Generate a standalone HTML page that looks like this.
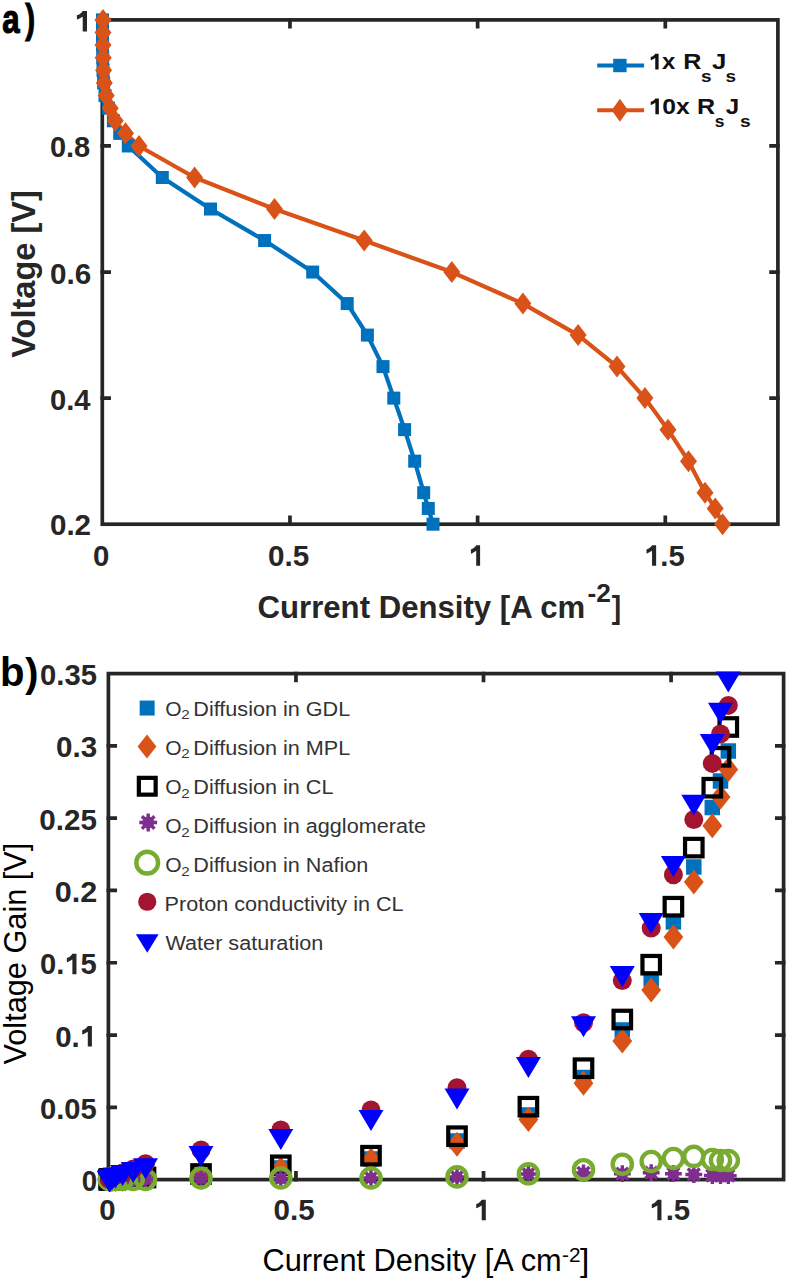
<!DOCTYPE html>
<html><head><meta charset="utf-8"><title>Figure</title><style>
html,body{margin:0;padding:0;background:#fff;overflow:hidden;}
svg{display:block;}
text{font-family:"Liberation Sans",sans-serif;}
</style></head><body>
<svg width="787" height="1280" viewBox="0 0 787 1280">
<rect width="787" height="1280" fill="#fff"/>
<g stroke="#262626" stroke-width="3.7" fill="none" stroke-linecap="square">
<rect x="102.3" y="19.9" width="675.6" height="504.3"/>
<path d="M289.97 524.2V517.4M289.97 19.9V26.7"/>
<path d="M477.63 524.2V517.4M477.63 19.9V26.7"/>
<path d="M665.3 524.2V517.4M665.3 19.9V26.7"/>
<path d="M102.3 398.12H109.1M777.9 398.12H771.1"/>
<path d="M102.3 272.05H109.1M777.9 272.05H771.1"/>
<path d="M102.3 145.97H109.1M777.9 145.97H771.1"/>
</g>
<text transform="translate(74.3 31.51) scale(1.041 1)" font-size="29.4" font-weight="bold" fill="#262626"> </text><polygon points="82.72,10.99 87,10.99 87,31.51 82.72,31.51 82.72,16.66 77.51,19.46 76.9,19.02 76.9,15.34 79.65,14.16 81.8,12.25" fill="#262626"/>
<text transform="translate(49.94 157.26) scale(0.987 1)" font-size="29.4" font-weight="bold" fill="#262626">0.8</text>
<text transform="translate(50.11 283.96) scale(1.010 1)" font-size="29.4" font-weight="bold" fill="#262626">0.6</text>
<text transform="translate(49.93 410.01) scale(0.992 1)" font-size="29.4" font-weight="bold" fill="#262626">0.4</text>
<text transform="translate(49.92 535.36) scale(1.007 1)" font-size="29.4" font-weight="bold" fill="#262626">0.2</text>
<text x="92.92" y="565.56" font-size="29.4" font-weight="bold" fill="#262626">0</text>
<text transform="translate(268.11 565.76) scale(1.009 1)" font-size="29.4" font-weight="bold" fill="#262626">0.5</text>
<text transform="translate(468.53 565.71) scale(0.948 1)" font-size="29.4" font-weight="bold" fill="#262626"> </text><polygon points="476.2,545.19 480.1,545.19 480.1,565.71 476.2,565.71 476.2,550.86 471.46,553.66 470.9,553.22 470.9,549.54 473.41,548.36 475.36,546.45" fill="#262626"/>
<text transform="translate(644.02 565.66) scale(0.994 1)" font-size="29.4" font-weight="bold" fill="#262626"> .5</text><polygon points="652.05,545.14 656.14,545.14 656.14,565.66 652.05,565.66 652.05,550.82 647.08,553.61 646.5,553.17 646.5,549.49 649.13,548.32 651.17,546.41" fill="#262626"/>
<text transform="translate(2.16 33.2) scale(0.761 1)" font-size="41" font-weight="bold" stroke="#000" stroke-width="1.2" fill="#000">a</text>
<text transform="translate(25.34 33.2) scale(0.718 1)" font-size="41" font-weight="bold" stroke="#000" stroke-width="1.2" fill="#000">)</text>
<text transform="translate(35 357.7) rotate(-90) scale(1.002 1)" font-size="32.5" font-weight="bold" fill="#262626">Voltage [V]</text>
<text transform="translate(257.55 618.1) scale(0.989 1)" font-size="31.5" font-weight="bold" fill="#262626">Current Density [A cm</text>
<text transform="translate(587.4 601.8) scale(1.029 1)" font-size="25.5" font-weight="bold" fill="#262626">-2</text>
<text transform="translate(611.66 618.1) scale(0.924 1)" font-size="30.5" font-weight="bold" fill="#262626">]</text>
<polyline fill="none" stroke="#0072BD" stroke-width="4.2" stroke-linejoin="round" points="102.5,19.9 102.5,32.51 102.5,45.12 102.7,57.72 103,70.33 103.6,82.94 105,95.55 108.5,108.15 113.4,120.76 119.7,133.37 128.3,145.97 162.3,177.49 210.5,209.01 264.6,240.53 312.7,272.05 347.2,303.57 367.4,335.09 383,366.61 393.8,398.12 404.6,429.64 414.7,461.16 423.7,492.68 428.3,508.44 433,524.2"/>
<polyline fill="none" stroke="#D95319" stroke-width="4.2" stroke-linejoin="round" points="103,19.9 103,32.51 103,45.12 103.2,57.72 103.6,70.33 104.3,82.94 106.2,95.55 110.2,108.15 115.2,120.76 125.5,133.37 139,145.97 194.6,177.49 274.5,209.01 364.2,240.53 451.8,272.05 522.9,303.57 578.1,335.09 617,366.61 644.9,398.12 668,429.64 688.5,461.16 705,492.68 715.2,508.44 722.6,524.2"/>
<rect x="96" y="13.4" width="13" height="13" fill="#0072BD"/>
<rect x="96" y="26.01" width="13" height="13" fill="#0072BD"/>
<rect x="96" y="38.62" width="13" height="13" fill="#0072BD"/>
<rect x="96.2" y="51.22" width="13" height="13" fill="#0072BD"/>
<rect x="96.5" y="63.83" width="13" height="13" fill="#0072BD"/>
<rect x="97.1" y="76.44" width="13" height="13" fill="#0072BD"/>
<rect x="98.5" y="89.05" width="13" height="13" fill="#0072BD"/>
<rect x="102" y="101.65" width="13" height="13" fill="#0072BD"/>
<rect x="106.9" y="114.26" width="13" height="13" fill="#0072BD"/>
<rect x="113.2" y="126.87" width="13" height="13" fill="#0072BD"/>
<rect x="121.8" y="139.47" width="13" height="13" fill="#0072BD"/>
<rect x="155.8" y="170.99" width="13" height="13" fill="#0072BD"/>
<rect x="204" y="202.51" width="13" height="13" fill="#0072BD"/>
<rect x="258.1" y="234.03" width="13" height="13" fill="#0072BD"/>
<rect x="306.2" y="265.55" width="13" height="13" fill="#0072BD"/>
<rect x="340.7" y="297.07" width="13" height="13" fill="#0072BD"/>
<rect x="360.9" y="328.59" width="13" height="13" fill="#0072BD"/>
<rect x="376.5" y="360.11" width="13" height="13" fill="#0072BD"/>
<rect x="387.3" y="391.62" width="13" height="13" fill="#0072BD"/>
<rect x="398.1" y="423.14" width="13" height="13" fill="#0072BD"/>
<rect x="408.2" y="454.66" width="13" height="13" fill="#0072BD"/>
<rect x="417.2" y="486.18" width="13" height="13" fill="#0072BD"/>
<rect x="421.8" y="501.94" width="13" height="13" fill="#0072BD"/>
<rect x="426.5" y="517.7" width="13" height="13" fill="#0072BD"/>
<path d="M103 8.9L111.5 19.9L103 30.9L94.5 19.9Z" fill="#D95319"/>
<path d="M103 21.51L111.5 32.51L103 43.51L94.5 32.51Z" fill="#D95319"/>
<path d="M103 34.12L111.5 45.12L103 56.12L94.5 45.12Z" fill="#D95319"/>
<path d="M103.2 46.72L111.7 57.72L103.2 68.72L94.7 57.72Z" fill="#D95319"/>
<path d="M103.6 59.33L112.1 70.33L103.6 81.33L95.1 70.33Z" fill="#D95319"/>
<path d="M104.3 71.94L112.8 82.94L104.3 93.94L95.8 82.94Z" fill="#D95319"/>
<path d="M106.2 84.55L114.7 95.55L106.2 106.55L97.7 95.55Z" fill="#D95319"/>
<path d="M110.2 97.15L118.7 108.15L110.2 119.15L101.7 108.15Z" fill="#D95319"/>
<path d="M115.2 109.76L123.7 120.76L115.2 131.76L106.7 120.76Z" fill="#D95319"/>
<path d="M125.5 122.37L134 133.37L125.5 144.37L117 133.37Z" fill="#D95319"/>
<path d="M139 134.97L147.5 145.97L139 156.97L130.5 145.97Z" fill="#D95319"/>
<path d="M194.6 166.49L203.1 177.49L194.6 188.49L186.1 177.49Z" fill="#D95319"/>
<path d="M274.5 198.01L283 209.01L274.5 220.01L266 209.01Z" fill="#D95319"/>
<path d="M364.2 229.53L372.7 240.53L364.2 251.53L355.7 240.53Z" fill="#D95319"/>
<path d="M451.8 261.05L460.3 272.05L451.8 283.05L443.3 272.05Z" fill="#D95319"/>
<path d="M522.9 292.57L531.4 303.57L522.9 314.57L514.4 303.57Z" fill="#D95319"/>
<path d="M578.1 324.09L586.6 335.09L578.1 346.09L569.6 335.09Z" fill="#D95319"/>
<path d="M617 355.61L625.5 366.61L617 377.61L608.5 366.61Z" fill="#D95319"/>
<path d="M644.9 387.12L653.4 398.12L644.9 409.12L636.4 398.12Z" fill="#D95319"/>
<path d="M668 418.64L676.5 429.64L668 440.64L659.5 429.64Z" fill="#D95319"/>
<path d="M688.5 450.16L697 461.16L688.5 472.16L680 461.16Z" fill="#D95319"/>
<path d="M705 481.68L713.5 492.68L705 503.68L696.5 492.68Z" fill="#D95319"/>
<path d="M715.2 497.44L723.7 508.44L715.2 519.44L706.7 508.44Z" fill="#D95319"/>
<path d="M722.6 513.2L731.1 524.2L722.6 535.2L714.1 524.2Z" fill="#D95319"/>
<path d="M597.2 65.5H644.1" stroke="#0072BD" stroke-width="4.1"/>
<rect x="613.2" y="58.8" width="13.4" height="13.4" fill="#0072BD"/>
<path d="M597.2 110.3H644.1" stroke="#D95319" stroke-width="3.9"/>
<path d="M619.9 98.8L628.15 110.3L619.9 121.8L611.65 110.3Z" fill="#D95319"/>
<text transform="translate(648.66 69.4) scale(1.064 1)" font-size="22.5" font-weight="bold" fill="#111"> x</text><polygon points="655.25,53.7 658.6,53.7 658.6,69.4 655.25,69.4 655.25,58.04 651.18,60.18 650.7,59.84 650.7,57.03 652.85,56.13 654.53,54.66" fill="#111"/>
<text transform="translate(683.34 69.4) scale(1.118 1)" font-size="22.5" font-weight="bold" fill="#111">R</text>
<text transform="translate(701.12 81.6) scale(1.185 1)" font-size="16" font-weight="bold" fill="#111">s</text>
<text transform="translate(711.99 69.4) scale(1.149 1)" font-size="22.5" font-weight="bold" fill="#111">J</text>
<text transform="translate(725.52 81.6) scale(1.185 1)" font-size="16" font-weight="bold" fill="#111">s</text>
<text transform="translate(648.6 114.2) scale(1.097 1)" font-size="22.5" font-weight="bold" fill="#111"> 0x</text><polygon points="655.39,98.5 658.85,98.5 658.85,114.2 655.39,114.2 655.39,102.84 651.19,104.98 650.7,104.64 650.7,101.83 652.92,100.93 654.65,99.46" fill="#111"/>
<text transform="translate(697.04 114.4) scale(1.118 1)" font-size="22.5" font-weight="bold" fill="#111">R</text>
<text transform="translate(714.87 126.6) scale(1.094 1)" font-size="16" font-weight="bold" fill="#111">s</text>
<text transform="translate(725.81 114.4) scale(1.073 1)" font-size="22.5" font-weight="bold" fill="#111">J</text>
<text transform="translate(739.91 126.6) scale(1.198 1)" font-size="16" font-weight="bold" fill="#111">s</text>
<g stroke="#262626" stroke-width="3.7" fill="none" stroke-linecap="square">
<rect x="108.4" y="673.6" width="675.2" height="506"/>
<path d="M295.96 1179.6V1172.8M295.96 673.6V680.4"/>
<path d="M483.51 1179.6V1172.8M483.51 673.6V680.4"/>
<path d="M671.07 1179.6V1172.8M671.07 673.6V680.4"/>
<path d="M108.4 1107.31H115.2M783.6 1107.31H776.8"/>
<path d="M108.4 1035.03H115.2M783.6 1035.03H776.8"/>
<path d="M108.4 962.74H115.2M783.6 962.74H776.8"/>
<path d="M108.4 890.46H115.2M783.6 890.46H776.8"/>
<path d="M108.4 818.17H115.2M783.6 818.17H776.8"/>
<path d="M108.4 745.89H115.2M783.6 745.89H776.8"/>
</g>
<text x="99.22" y="1220.16" font-size="29.4" font-weight="bold" fill="#262626">0</text>
<text transform="translate(273.52 1220.11) scale(1.006 1)" font-size="29.4" font-weight="bold" fill="#262626">0.5</text>
<text transform="translate(473.73 1220.31) scale(0.989 1)" font-size="29.4" font-weight="bold" fill="#262626"> </text><polygon points="481.73,1199.79 485.8,1199.79 485.8,1220.31 481.73,1220.31 481.73,1205.46 476.78,1208.26 476.2,1207.82 476.2,1204.14 478.82,1202.96 480.85,1201.05" fill="#262626"/>
<text x="649.31" y="1220.31" font-size="29.4" font-weight="bold" fill="#262626"> .5</text><polygon points="657.36,1199.79 661.46,1199.79 661.46,1220.31 657.36,1220.31 657.36,1205.47 652.39,1208.26 651.8,1207.82 651.8,1204.14 654.44,1202.97 656.49,1201.06" fill="#262626"/>
<text transform="translate(81.69 1191.11) scale(0.943 1)" font-size="29.4" font-weight="bold" fill="#262626">0</text>
<text transform="translate(40.03 1118.83) scale(0.993 1)" font-size="29.4" font-weight="bold" fill="#262626">0.05</text>
<text x="55.23" y="1046.54" font-size="29.4" font-weight="bold" fill="#262626">0. </text><polygon points="87.79,1026.02 91.9,1026.02 91.9,1046.54 87.79,1046.54 87.79,1031.7 82.8,1034.49 82.21,1034.05 82.21,1030.37 84.85,1029.2 86.91,1027.29" fill="#262626"/>
<text transform="translate(40.03 974.26) scale(0.992 1)" font-size="29.4" font-weight="bold" fill="#262626">0. 5</text><polygon points="72.39,953.74 76.48,953.74 76.48,974.26 72.39,974.26 72.39,959.41 67.43,962.2 66.85,961.76 66.85,958.09 69.47,956.91 71.52,955" fill="#262626"/>
<text transform="translate(54.78 901.97) scale(1.041 1)" font-size="29.4" font-weight="bold" fill="#262626">0.2</text>
<text transform="translate(39.32 829.69) scale(1.007 1)" font-size="29.4" font-weight="bold" fill="#262626">0.25</text>
<text transform="translate(56.02 757.37) scale(1.007 1)" font-size="29.4" font-weight="bold" fill="#262626">0.3</text>
<text transform="translate(40.03 685.08) scale(0.994 1)" font-size="29.4" font-weight="bold" fill="#262626">0.35</text>
<text transform="translate(0.05 686.39) scale(0.978 1)" font-size="41" font-weight="bold" fill="#000">b</text>
<text transform="translate(25.12 686.53) scale(0.986 1)" font-size="41" font-weight="bold" fill="#000">)</text>
<text transform="translate(25.8 1064.52) rotate(-90) scale(1.007 1)" font-size="30.5" fill="#000">Voltage Gain [V]</text>
<text transform="translate(262.46 1270.8) scale(0.993 1)" font-size="31" fill="#000">Current Density [A cm</text>
<text transform="translate(561.99 1261.8) scale(1.021 1)" font-size="20.3" fill="#000">-2</text>
<text transform="translate(580.03 1270.8) scale(1.109 1)" font-size="30.5" fill="#000">]</text>
<text x="165.2" y="715.6" font-size="21" fill="#333">O</text>
<text transform="translate(181.2 719.4) scale(1.120 1)" font-size="13.5" fill="#333">2</text>
<text transform="translate(193.3 715.6) scale(1.030 1)" font-size="21" fill="#333">Diffusion in GDL</text>
<text x="165.2" y="754.67" font-size="21" fill="#333">O</text>
<text transform="translate(181.2 758.47) scale(1.120 1)" font-size="13.5" fill="#333">2</text>
<text transform="translate(193.3 754.67) scale(1.030 1)" font-size="21" fill="#333">Diffusion in MPL</text>
<text x="165.2" y="793.74" font-size="21" fill="#333">O</text>
<text transform="translate(181.2 797.54) scale(1.120 1)" font-size="13.5" fill="#333">2</text>
<text transform="translate(193.3 793.74) scale(1.030 1)" font-size="21" fill="#333">Diffusion in CL</text>
<text x="165.2" y="832.81" font-size="21" fill="#333">O</text>
<text transform="translate(181.2 836.61) scale(1.120 1)" font-size="13.5" fill="#333">2</text>
<text transform="translate(193.3 832.81) scale(1.030 1)" font-size="21" fill="#333">Diffusion in agglomerate</text>
<text x="165.2" y="871.88" font-size="21" fill="#333">O</text>
<text transform="translate(181.2 875.68) scale(1.120 1)" font-size="13.5" fill="#333">2</text>
<text transform="translate(193.3 871.88) scale(1.030 1)" font-size="21" fill="#333">Diffusion in Nafion</text>
<text transform="translate(164.6 910.95) scale(1.030 1)" font-size="21" fill="#333">Proton conductivity in CL</text>
<text transform="translate(165.5 950.02) scale(1.030 1)" font-size="21" fill="#333">Water saturation</text>
<rect x="139.65" y="700.55" width="15" height="15" fill="#0072BD"/>
<path d="M147 734.5L156.4 746.5L147 758.5L137.6 746.5Z" fill="#D95319"/>
<rect x="138.85" y="777.85" width="16.8" height="16.8" fill="none" stroke="#000" stroke-width="4.2"/>
<path d="M139.3 822.5L157.1 822.5M141.91 816.21L154.49 828.79M148.2 813.6L148.2 831.4M154.49 816.21L141.91 828.79" stroke="#7E2F8E" stroke-width="3.4" fill="none"/><circle cx="148.2" cy="822.5" r="6.05" fill="#7E2F8E"/>
<circle cx="147.2" cy="862.65" r="10.9" fill="none" stroke="#77AC30" stroke-width="4.4"/>
<circle cx="147.25" cy="901.75" r="9.1" fill="#A2142F"/>
<path d="M135.85 934.2L158.65 934.2L147.25 952.8Z" fill="#0000FF"/>
<rect x="101.75" y="1171.75" width="15.5" height="15.5" fill="#0072BD"/>
<rect x="101.75" y="1171.75" width="15.5" height="15.5" fill="#0072BD"/>
<rect x="101.75" y="1171.75" width="15.5" height="15.5" fill="#0072BD"/>
<rect x="101.85" y="1171.75" width="15.5" height="15.5" fill="#0072BD"/>
<rect x="102.25" y="1171.75" width="15.5" height="15.5" fill="#0072BD"/>
<rect x="103.05" y="1171.75" width="15.5" height="15.5" fill="#0072BD"/>
<rect x="104.25" y="1171.75" width="15.5" height="15.5" fill="#0072BD"/>
<rect x="107.65" y="1171.75" width="15.5" height="15.5" fill="#0072BD"/>
<rect x="114.85" y="1171.25" width="15.5" height="15.5" fill="#0072BD"/>
<rect x="125.45" y="1170.75" width="15.5" height="15.5" fill="#0072BD"/>
<rect x="137.75" y="1170.25" width="15.5" height="15.5" fill="#0072BD"/>
<rect x="193.25" y="1167.75" width="15.5" height="15.5" fill="#0072BD"/>
<rect x="273.05" y="1160.25" width="15.5" height="15.5" fill="#0072BD"/>
<rect x="363.25" y="1151.25" width="15.5" height="15.5" fill="#0072BD"/>
<rect x="449.25" y="1133.25" width="15.5" height="15.5" fill="#0072BD"/>
<rect x="520.65" y="1107.25" width="15.5" height="15.5" fill="#0072BD"/>
<rect x="575.75" y="1069.75" width="15.5" height="15.5" fill="#0072BD"/>
<rect x="614.55" y="1022.25" width="15.5" height="15.5" fill="#0072BD"/>
<rect x="643.45" y="971.25" width="15.5" height="15.5" fill="#0072BD"/>
<rect x="665.65" y="914.15" width="15.5" height="15.5" fill="#0072BD"/>
<rect x="686.05" y="859.25" width="15.5" height="15.5" fill="#0072BD"/>
<rect x="704.55" y="799.75" width="15.5" height="15.5" fill="#0072BD"/>
<rect x="712.75" y="773.25" width="15.5" height="15.5" fill="#0072BD"/>
<rect x="720.55" y="743.25" width="15.5" height="15.5" fill="#0072BD"/>
<path d="M109.5 1167L119.4 1179.5L109.5 1192L99.6 1179.5Z" fill="#D95319"/>
<path d="M109.5 1167L119.4 1179.5L109.5 1192L99.6 1179.5Z" fill="#D95319"/>
<path d="M109.5 1167L119.4 1179.5L109.5 1192L99.6 1179.5Z" fill="#D95319"/>
<path d="M109.6 1167L119.5 1179.5L109.6 1192L99.7 1179.5Z" fill="#D95319"/>
<path d="M110 1167L119.9 1179.5L110 1192L100.1 1179.5Z" fill="#D95319"/>
<path d="M110.8 1167L120.7 1179.5L110.8 1192L100.9 1179.5Z" fill="#D95319"/>
<path d="M112 1167L121.9 1179.5L112 1192L102.1 1179.5Z" fill="#D95319"/>
<path d="M115.4 1167L125.3 1179.5L115.4 1192L105.5 1179.5Z" fill="#D95319"/>
<path d="M122.6 1166.5L132.5 1179L122.6 1191.5L112.7 1179Z" fill="#D95319"/>
<path d="M133.2 1166L143.1 1178.5L133.2 1191L123.3 1178.5Z" fill="#D95319"/>
<path d="M145.5 1165.5L155.4 1178L145.5 1190.5L135.6 1178Z" fill="#D95319"/>
<path d="M201 1163.5L210.9 1176L201 1188.5L191.1 1176Z" fill="#D95319"/>
<path d="M280.8 1156.5L290.7 1169L280.8 1181.5L270.9 1169Z" fill="#D95319"/>
<path d="M371 1147.5L380.9 1160L371 1172.5L361.1 1160Z" fill="#D95319"/>
<path d="M457 1131.8L466.9 1144.3L457 1156.8L447.1 1144.3Z" fill="#D95319"/>
<path d="M528.4 1107L538.3 1119.5L528.4 1132L518.5 1119.5Z" fill="#D95319"/>
<path d="M583.5 1070.8L593.4 1083.3L583.5 1095.8L573.6 1083.3Z" fill="#D95319"/>
<path d="M622.3 1028.5L632.2 1041L622.3 1053.5L612.4 1041Z" fill="#D95319"/>
<path d="M651.2 977.5L661.1 990L651.2 1002.5L641.3 990Z" fill="#D95319"/>
<path d="M673.4 924.5L683.3 937L673.4 949.5L663.5 937Z" fill="#D95319"/>
<path d="M693.8 869.4L703.7 881.9L693.8 894.4L683.9 881.9Z" fill="#D95319"/>
<path d="M712.3 813.3L722.2 825.8L712.3 838.3L702.4 825.8Z" fill="#D95319"/>
<path d="M720.5 784.5L730.4 797L720.5 809.5L710.6 797Z" fill="#D95319"/>
<path d="M728.3 756.9L738.2 769.4L728.3 781.9L718.4 769.4Z" fill="#D95319"/>
<rect x="100.75" y="1170.75" width="17.5" height="17.5" fill="none" stroke="#000" stroke-width="4.2"/>
<rect x="100.75" y="1170.75" width="17.5" height="17.5" fill="none" stroke="#000" stroke-width="4.2"/>
<rect x="100.75" y="1170.75" width="17.5" height="17.5" fill="none" stroke="#000" stroke-width="4.2"/>
<rect x="100.85" y="1170.75" width="17.5" height="17.5" fill="none" stroke="#000" stroke-width="4.2"/>
<rect x="101.25" y="1170.75" width="17.5" height="17.5" fill="none" stroke="#000" stroke-width="4.2"/>
<rect x="102.05" y="1170.75" width="17.5" height="17.5" fill="none" stroke="#000" stroke-width="4.2"/>
<rect x="103.25" y="1170.75" width="17.5" height="17.5" fill="none" stroke="#000" stroke-width="4.2"/>
<rect x="106.65" y="1170.75" width="17.5" height="17.5" fill="none" stroke="#000" stroke-width="4.2"/>
<rect x="113.85" y="1170.25" width="17.5" height="17.5" fill="none" stroke="#000" stroke-width="4.2"/>
<rect x="124.45" y="1169.75" width="17.5" height="17.5" fill="none" stroke="#000" stroke-width="4.2"/>
<rect x="136.75" y="1168.75" width="17.5" height="17.5" fill="none" stroke="#000" stroke-width="4.2"/>
<rect x="192.25" y="1165.25" width="17.5" height="17.5" fill="none" stroke="#000" stroke-width="4.2"/>
<rect x="272.05" y="1156.55" width="17.5" height="17.5" fill="none" stroke="#000" stroke-width="4.2"/>
<rect x="362.25" y="1146.95" width="17.5" height="17.5" fill="none" stroke="#000" stroke-width="4.2"/>
<rect x="448.25" y="1127.45" width="17.5" height="17.5" fill="none" stroke="#000" stroke-width="4.2"/>
<rect x="519.65" y="1097.95" width="17.5" height="17.5" fill="none" stroke="#000" stroke-width="4.2"/>
<rect x="574.75" y="1059.45" width="17.5" height="17.5" fill="none" stroke="#000" stroke-width="4.2"/>
<rect x="613.55" y="1010.75" width="17.5" height="17.5" fill="none" stroke="#000" stroke-width="4.2"/>
<rect x="642.45" y="955.95" width="17.5" height="17.5" fill="none" stroke="#000" stroke-width="4.2"/>
<rect x="664.65" y="897.95" width="17.5" height="17.5" fill="none" stroke="#000" stroke-width="4.2"/>
<rect x="685.05" y="838.85" width="17.5" height="17.5" fill="none" stroke="#000" stroke-width="4.2"/>
<rect x="703.55" y="778.95" width="17.5" height="17.5" fill="none" stroke="#000" stroke-width="4.2"/>
<rect x="711.75" y="748.05" width="17.5" height="17.5" fill="none" stroke="#000" stroke-width="4.2"/>
<rect x="719.55" y="718.25" width="17.5" height="17.5" fill="none" stroke="#000" stroke-width="4.2"/>
<path d="M101.1 1179.5L117.9 1179.5M103.56 1173.56L115.44 1185.44M109.5 1171.1L109.5 1187.9M115.44 1173.56L103.56 1185.44" stroke="#7E2F8E" stroke-width="3.4" fill="none"/><circle cx="109.5" cy="1179.5" r="5.71" fill="#7E2F8E"/>
<path d="M101.1 1179.5L117.9 1179.5M103.56 1173.56L115.44 1185.44M109.5 1171.1L109.5 1187.9M115.44 1173.56L103.56 1185.44" stroke="#7E2F8E" stroke-width="3.4" fill="none"/><circle cx="109.5" cy="1179.5" r="5.71" fill="#7E2F8E"/>
<path d="M101.1 1179.5L117.9 1179.5M103.56 1173.56L115.44 1185.44M109.5 1171.1L109.5 1187.9M115.44 1173.56L103.56 1185.44" stroke="#7E2F8E" stroke-width="3.4" fill="none"/><circle cx="109.5" cy="1179.5" r="5.71" fill="#7E2F8E"/>
<path d="M101.2 1179.5L118 1179.5M103.66 1173.56L115.54 1185.44M109.6 1171.1L109.6 1187.9M115.54 1173.56L103.66 1185.44" stroke="#7E2F8E" stroke-width="3.4" fill="none"/><circle cx="109.6" cy="1179.5" r="5.71" fill="#7E2F8E"/>
<path d="M101.6 1179.5L118.4 1179.5M104.06 1173.56L115.94 1185.44M110 1171.1L110 1187.9M115.94 1173.56L104.06 1185.44" stroke="#7E2F8E" stroke-width="3.4" fill="none"/><circle cx="110" cy="1179.5" r="5.71" fill="#7E2F8E"/>
<path d="M102.4 1179.5L119.2 1179.5M104.86 1173.56L116.74 1185.44M110.8 1171.1L110.8 1187.9M116.74 1173.56L104.86 1185.44" stroke="#7E2F8E" stroke-width="3.4" fill="none"/><circle cx="110.8" cy="1179.5" r="5.71" fill="#7E2F8E"/>
<path d="M103.6 1179.5L120.4 1179.5M106.06 1173.56L117.94 1185.44M112 1171.1L112 1187.9M117.94 1173.56L106.06 1185.44" stroke="#7E2F8E" stroke-width="3.4" fill="none"/><circle cx="112" cy="1179.5" r="5.71" fill="#7E2F8E"/>
<path d="M107 1179.5L123.8 1179.5M109.46 1173.56L121.34 1185.44M115.4 1171.1L115.4 1187.9M121.34 1173.56L109.46 1185.44" stroke="#7E2F8E" stroke-width="3.4" fill="none"/><circle cx="115.4" cy="1179.5" r="5.71" fill="#7E2F8E"/>
<path d="M114.2 1179.5L131 1179.5M116.66 1173.56L128.54 1185.44M122.6 1171.1L122.6 1187.9M128.54 1173.56L116.66 1185.44" stroke="#7E2F8E" stroke-width="3.4" fill="none"/><circle cx="122.6" cy="1179.5" r="5.71" fill="#7E2F8E"/>
<path d="M124.8 1179.5L141.6 1179.5M127.26 1173.56L139.14 1185.44M133.2 1171.1L133.2 1187.9M139.14 1173.56L127.26 1185.44" stroke="#7E2F8E" stroke-width="3.4" fill="none"/><circle cx="133.2" cy="1179.5" r="5.71" fill="#7E2F8E"/>
<path d="M137.1 1179.5L153.9 1179.5M139.56 1173.56L151.44 1185.44M145.5 1171.1L145.5 1187.9M151.44 1173.56L139.56 1185.44" stroke="#7E2F8E" stroke-width="3.4" fill="none"/><circle cx="145.5" cy="1179.5" r="5.71" fill="#7E2F8E"/>
<path d="M192.6 1178.5L209.4 1178.5M195.06 1172.56L206.94 1184.44M201 1170.1L201 1186.9M206.94 1172.56L195.06 1184.44" stroke="#7E2F8E" stroke-width="3.4" fill="none"/><circle cx="201" cy="1178.5" r="5.71" fill="#7E2F8E"/>
<path d="M272.4 1178.5L289.2 1178.5M274.86 1172.56L286.74 1184.44M280.8 1170.1L280.8 1186.9M286.74 1172.56L274.86 1184.44" stroke="#7E2F8E" stroke-width="3.4" fill="none"/><circle cx="280.8" cy="1178.5" r="5.71" fill="#7E2F8E"/>
<path d="M362.6 1178L379.4 1178M365.06 1172.06L376.94 1183.94M371 1169.6L371 1186.4M376.94 1172.06L365.06 1183.94" stroke="#7E2F8E" stroke-width="3.4" fill="none"/><circle cx="371" cy="1178" r="5.71" fill="#7E2F8E"/>
<path d="M448.6 1177L465.4 1177M451.06 1171.06L462.94 1182.94M457 1168.6L457 1185.4M462.94 1171.06L451.06 1182.94" stroke="#7E2F8E" stroke-width="3.4" fill="none"/><circle cx="457" cy="1177" r="5.71" fill="#7E2F8E"/>
<path d="M520 1174L536.8 1174M522.46 1168.06L534.34 1179.94M528.4 1165.6L528.4 1182.4M534.34 1168.06L522.46 1179.94" stroke="#7E2F8E" stroke-width="3.4" fill="none"/><circle cx="528.4" cy="1174" r="5.71" fill="#7E2F8E"/>
<path d="M575.1 1173L591.9 1173M577.56 1167.06L589.44 1178.94M583.5 1164.6L583.5 1181.4M589.44 1167.06L577.56 1178.94" stroke="#7E2F8E" stroke-width="3.4" fill="none"/><circle cx="583.5" cy="1173" r="5.71" fill="#7E2F8E"/>
<path d="M613.9 1173.7L630.7 1173.7M616.36 1167.76L628.24 1179.64M622.3 1165.3L622.3 1182.1M628.24 1167.76L616.36 1179.64" stroke="#7E2F8E" stroke-width="3.4" fill="none"/><circle cx="622.3" cy="1173.7" r="5.71" fill="#7E2F8E"/>
<path d="M642.8 1172.7L659.6 1172.7M645.26 1166.76L657.14 1178.64M651.2 1164.3L651.2 1181.1M657.14 1166.76L645.26 1178.64" stroke="#7E2F8E" stroke-width="3.4" fill="none"/><circle cx="651.2" cy="1172.7" r="5.71" fill="#7E2F8E"/>
<path d="M665 1173.7L681.8 1173.7M667.46 1167.76L679.34 1179.64M673.4 1165.3L673.4 1182.1M679.34 1167.76L667.46 1179.64" stroke="#7E2F8E" stroke-width="3.4" fill="none"/><circle cx="673.4" cy="1173.7" r="5.71" fill="#7E2F8E"/>
<path d="M685.4 1174.5L702.2 1174.5M687.86 1168.56L699.74 1180.44M693.8 1166.1L693.8 1182.9M699.74 1168.56L687.86 1180.44" stroke="#7E2F8E" stroke-width="3.4" fill="none"/><circle cx="693.8" cy="1174.5" r="5.71" fill="#7E2F8E"/>
<path d="M703.9 1175.5L720.7 1175.5M706.36 1169.56L718.24 1181.44M712.3 1167.1L712.3 1183.9M718.24 1169.56L706.36 1181.44" stroke="#7E2F8E" stroke-width="3.4" fill="none"/><circle cx="712.3" cy="1175.5" r="5.71" fill="#7E2F8E"/>
<path d="M712.1 1175.7L728.9 1175.7M714.56 1169.76L726.44 1181.64M720.5 1167.3L720.5 1184.1M726.44 1169.76L714.56 1181.64" stroke="#7E2F8E" stroke-width="3.4" fill="none"/><circle cx="720.5" cy="1175.7" r="5.71" fill="#7E2F8E"/>
<path d="M719.9 1175.7L736.7 1175.7M722.36 1169.76L734.24 1181.64M728.3 1167.3L728.3 1184.1M734.24 1169.76L722.36 1181.64" stroke="#7E2F8E" stroke-width="3.4" fill="none"/><circle cx="728.3" cy="1175.7" r="5.71" fill="#7E2F8E"/>
<circle cx="109.5" cy="1179.5" r="9.6" fill="none" stroke="#77AC30" stroke-width="4.4"/>
<circle cx="109.5" cy="1179.5" r="9.6" fill="none" stroke="#77AC30" stroke-width="4.4"/>
<circle cx="109.5" cy="1179.5" r="9.6" fill="none" stroke="#77AC30" stroke-width="4.4"/>
<circle cx="109.6" cy="1179.5" r="9.6" fill="none" stroke="#77AC30" stroke-width="4.4"/>
<circle cx="110" cy="1179.5" r="9.6" fill="none" stroke="#77AC30" stroke-width="4.4"/>
<circle cx="110.8" cy="1179.5" r="9.6" fill="none" stroke="#77AC30" stroke-width="4.4"/>
<circle cx="112" cy="1179.5" r="9.6" fill="none" stroke="#77AC30" stroke-width="4.4"/>
<circle cx="115.4" cy="1179.5" r="9.6" fill="none" stroke="#77AC30" stroke-width="4.4"/>
<circle cx="122.6" cy="1179.5" r="9.6" fill="none" stroke="#77AC30" stroke-width="4.4"/>
<circle cx="133.2" cy="1179.5" r="9.6" fill="none" stroke="#77AC30" stroke-width="4.4"/>
<circle cx="145.5" cy="1179.5" r="9.6" fill="none" stroke="#77AC30" stroke-width="4.4"/>
<circle cx="201" cy="1178" r="9.6" fill="none" stroke="#77AC30" stroke-width="4.4"/>
<circle cx="280.8" cy="1178" r="9.6" fill="none" stroke="#77AC30" stroke-width="4.4"/>
<circle cx="371" cy="1178" r="9.6" fill="none" stroke="#77AC30" stroke-width="4.4"/>
<circle cx="457" cy="1176.9" r="9.6" fill="none" stroke="#77AC30" stroke-width="4.4"/>
<circle cx="528.4" cy="1173.8" r="9.6" fill="none" stroke="#77AC30" stroke-width="4.4"/>
<circle cx="583.5" cy="1169.7" r="9.6" fill="none" stroke="#77AC30" stroke-width="4.4"/>
<circle cx="622.3" cy="1164.2" r="9.6" fill="none" stroke="#77AC30" stroke-width="4.4"/>
<circle cx="651.2" cy="1161.5" r="9.6" fill="none" stroke="#77AC30" stroke-width="4.4"/>
<circle cx="673.4" cy="1158.5" r="9.6" fill="none" stroke="#77AC30" stroke-width="4.4"/>
<circle cx="693.8" cy="1156.4" r="9.6" fill="none" stroke="#77AC30" stroke-width="4.4"/>
<circle cx="712.3" cy="1159.5" r="9.6" fill="none" stroke="#77AC30" stroke-width="4.4"/>
<circle cx="720.5" cy="1160.5" r="9.6" fill="none" stroke="#77AC30" stroke-width="4.4"/>
<circle cx="728.3" cy="1160.5" r="9.6" fill="none" stroke="#77AC30" stroke-width="4.4"/>
<circle cx="109.5" cy="1179" r="9.5" fill="#A2142F"/>
<circle cx="109.5" cy="1179" r="9.5" fill="#A2142F"/>
<circle cx="109.5" cy="1179" r="9.5" fill="#A2142F"/>
<circle cx="109.6" cy="1179" r="9.5" fill="#A2142F"/>
<circle cx="110" cy="1178.5" r="9.5" fill="#A2142F"/>
<circle cx="110.8" cy="1178" r="9.5" fill="#A2142F"/>
<circle cx="112" cy="1177" r="9.5" fill="#A2142F"/>
<circle cx="115.4" cy="1175.5" r="9.5" fill="#A2142F"/>
<circle cx="122.6" cy="1173" r="9.5" fill="#A2142F"/>
<circle cx="133.2" cy="1169" r="9.5" fill="#A2142F"/>
<circle cx="145.5" cy="1163.8" r="9.5" fill="#A2142F"/>
<circle cx="201" cy="1150" r="9.5" fill="#A2142F"/>
<circle cx="280.8" cy="1130" r="9.5" fill="#A2142F"/>
<circle cx="371" cy="1110" r="9.5" fill="#A2142F"/>
<circle cx="457" cy="1087.8" r="9.5" fill="#A2142F"/>
<circle cx="528.4" cy="1059.3" r="9.5" fill="#A2142F"/>
<circle cx="583.5" cy="1022.7" r="9.5" fill="#A2142F"/>
<circle cx="622.3" cy="980.6" r="9.5" fill="#A2142F"/>
<circle cx="651.2" cy="928.1" r="9.5" fill="#A2142F"/>
<circle cx="673.4" cy="874.7" r="9.5" fill="#A2142F"/>
<circle cx="693.8" cy="819.6" r="9.5" fill="#A2142F"/>
<circle cx="712.3" cy="763.4" r="9.5" fill="#A2142F"/>
<circle cx="720.5" cy="733.9" r="9.5" fill="#A2142F"/>
<circle cx="728.3" cy="705.4" r="9.5" fill="#A2142F"/>
<path d="M97 1171L122 1171L109.5 1192Z" fill="#0000FF"/>
<path d="M97 1171L122 1171L109.5 1192Z" fill="#0000FF"/>
<path d="M97 1171L122 1171L109.5 1192Z" fill="#0000FF"/>
<path d="M97.1 1170.8L122.1 1170.8L109.6 1191.8Z" fill="#0000FF"/>
<path d="M97.5 1170.5L122.5 1170.5L110 1191.5Z" fill="#0000FF"/>
<path d="M98.3 1170L123.3 1170L110.8 1191Z" fill="#0000FF"/>
<path d="M99.5 1169L124.5 1169L112 1190Z" fill="#0000FF"/>
<path d="M102.9 1167.5L127.9 1167.5L115.4 1188.5Z" fill="#0000FF"/>
<path d="M110.1 1165L135.1 1165L122.6 1186Z" fill="#0000FF"/>
<path d="M120.7 1162L145.7 1162L133.2 1183Z" fill="#0000FF"/>
<path d="M133 1158.3L158 1158.3L145.5 1179.3Z" fill="#0000FF"/>
<path d="M188.5 1146L213.5 1146L201 1167Z" fill="#0000FF"/>
<path d="M268.3 1129L293.3 1129L280.8 1150Z" fill="#0000FF"/>
<path d="M358.5 1110L383.5 1110L371 1131Z" fill="#0000FF"/>
<path d="M444.5 1088.4L469.5 1088.4L457 1109.4Z" fill="#0000FF"/>
<path d="M515.9 1057L540.9 1057L528.4 1078Z" fill="#0000FF"/>
<path d="M571 1016.3L596 1016.3L583.5 1037.3Z" fill="#0000FF"/>
<path d="M609.8 966L634.8 966L622.3 987Z" fill="#0000FF"/>
<path d="M638.7 913L663.7 913L651.2 934Z" fill="#0000FF"/>
<path d="M660.9 856L685.9 856L673.4 877Z" fill="#0000FF"/>
<path d="M681.3 794.7L706.3 794.7L693.8 815.7Z" fill="#0000FF"/>
<path d="M699.8 733.9L724.8 733.9L712.3 754.9Z" fill="#0000FF"/>
<path d="M708 702.7L733 702.7L720.5 723.7Z" fill="#0000FF"/>
<path d="M715.8 671.6L740.8 671.6L728.3 692.6Z" fill="#0000FF"/>
</svg>
</body></html>
